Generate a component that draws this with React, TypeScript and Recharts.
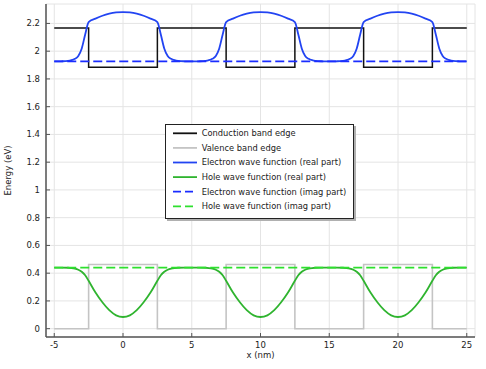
import React from 'react';
import { LineChart, Line, XAxis, YAxis, CartesianGrid } from 'recharts';

// x positions (nm) of the wave function samples
const waveX = [
  -5, -4.5, -4, -3.75, -3.5, -3.25, -3, -2.75,
  -2.5, -2, -1.5, -1, -0.5, 0, 0.5, 1, 1.5, 2, 2.5,
  2.75, 3, 3.25, 3.5, 3.75, 4, 4.5, 5, 5.5, 6, 6.25, 6.5, 6.75, 7, 7.25,
  7.5, 8, 8.5, 9, 9.5, 10, 10.5, 11, 11.5, 12, 12.5,
  12.75, 13, 13.25, 13.5, 13.75, 14, 14.5, 15, 15.5, 16, 16.25, 16.5, 16.75, 17, 17.25,
  17.5, 18, 18.5, 19, 19.5, 20, 20.5, 21, 21.5, 22, 22.5,
  22.75, 23, 23.25, 23.5, 23.75, 24, 24.5, 25,
];

const electronReal = [
  1.926, 1.927, 1.93, 1.935, 1.945, 1.965, 2.02, 2.12,
  2.21, 2.235, 2.2555, 2.27, 2.279, 2.282, 2.279, 2.27, 2.2555, 2.235, 2.21,
  2.12, 2.02, 1.965, 1.945, 1.935, 1.93, 1.927, 1.926, 1.927, 1.93, 1.935, 1.945, 1.965, 2.02, 2.12,
  2.21, 2.235, 2.2555, 2.27, 2.279, 2.282, 2.279, 2.27, 2.2555, 2.235, 2.21,
  2.12, 2.02, 1.965, 1.945, 1.935, 1.93, 1.927, 1.926, 1.927, 1.93, 1.935, 1.945, 1.965, 2.02, 2.12,
  2.21, 2.235, 2.2555, 2.27, 2.279, 2.282, 2.279, 2.27, 2.2555, 2.235, 2.21,
  2.12, 2.02, 1.965, 1.945, 1.935, 1.93, 1.927, 1.926,
];

const holeReal = [
  0.44, 0.44, 0.439, 0.437, 0.433, 0.425, 0.41, 0.385,
  0.345, 0.26, 0.19, 0.133, 0.096, 0.084, 0.096, 0.133, 0.19, 0.26, 0.345,
  0.385, 0.41, 0.425, 0.433, 0.437, 0.439, 0.44, 0.44, 0.44, 0.439, 0.437, 0.433, 0.425, 0.41, 0.385,
  0.345, 0.26, 0.19, 0.133, 0.096, 0.084, 0.096, 0.133, 0.19, 0.26, 0.345,
  0.385, 0.41, 0.425, 0.433, 0.437, 0.439, 0.44, 0.44, 0.44, 0.439, 0.437, 0.433, 0.425, 0.41, 0.385,
  0.345, 0.26, 0.19, 0.133, 0.096, 0.084, 0.096, 0.133, 0.19, 0.26, 0.345,
  0.385, 0.41, 0.425, 0.433, 0.437, 0.439, 0.44, 0.44,
];

const imagX = [-5, 25];
const electronImag = [1.926, 1.926];
const holeImag = [0.44, 0.44];

// band edge breakpoints
const bandX = [-5, -2.5, -2.5, 2.5, 2.5, 7.5, 7.5, 12.5, 12.5, 17.5, 17.5, 22.5, 22.5, 25];
const conductionBand = [2.167, 2.167, 1.885, 1.885, 2.167, 2.167, 1.885, 1.885, 2.167, 2.167, 1.885, 1.885, 2.167, 2.167];
const valenceBand = [0, 0, 0.462, 0.462, 0, 0, 0.462, 0.462, 0, 0, 0.462, 0.462, 0, 0];

const xTicks = [-5, 0, 5, 10, 15, 20, 25];
const yTicks = [0, 0.2, 0.4, 0.6, 0.8, 1, 1.2, 1.4, 1.6, 1.8, 2, 2.2];

const seriesNames = [
  'Conduction band edge',
  'Valence band edge',
  'Electron wave function (real part)',
  'Hole wave function (real part)',
  'Electron wave function (imag part)',
  'Hole wave function (imag part)',
];

const C_CB = '#111111';
const C_VB = '#c4c4c4';
const C_ER = '#2244f2';
const C_HR = '#2fb42f';
const C_EI = '#1a2cff';
const C_HI = '#2ee02e';

const FONT = 'DejaVu Sans';
const AX = '#555555';
const TXT = '#222222';

const bandData = bandX.map((x, i) => ({ x, cb: conductionBand[i], vb: valenceBand[i] }));
const waveData = waveX.map((x, i) => ({ x, er: electronReal[i], hr: holeReal[i] }));
const imagData = imagX.map((x, i) => ({ x, ei: electronImag[i], hi: holeImag[i] }));

const BottomTick = (p: any) => (
  <g>
    <line x1={p.x} x2={p.x} y1={p.y} y2={p.y - 4} stroke={AX} strokeWidth={1} />
    <text x={p.x} y={p.y + 11} textAnchor="middle" fontSize={8.5} fontFamily={FONT} fill={TXT}>
      {p.payload.value}
    </text>
  </g>
);
const LeftTick = (p: any) => (
  <g>
    <line x1={p.x} x2={p.x + 4} y1={p.y} y2={p.y} stroke={AX} strokeWidth={1} />
    <text x={p.x - 6} y={p.y} dy="0.35em" textAnchor="end" fontSize={8.5} fontFamily={FONT} fill={TXT}>
      {p.payload.value}
    </text>
  </g>
);
const TopTick = (p: any) => (
  <line x1={p.x} x2={p.x} y1={p.y} y2={p.y + 4} stroke={AX} strokeWidth={1} />
);
const RightTick = (p: any) => (
  <line x1={p.x} x2={p.x - 4} y1={p.y} y2={p.y} stroke={AX} strokeWidth={1} />
);

const legendStyles = [
  { c: C_CB, d: undefined },
  { c: C_VB, d: undefined },
  { c: C_ER, d: undefined },
  { c: C_HR, d: undefined },
  { c: C_EI, d: '8 4' },
  { c: C_HI, d: '8 4' },
];

export default function App() {
  return (
    <div style={{ position: 'absolute', left: 0, top: 0, width: 486, height: 369, background: '#fff' }}>
      <LineChart width={486} height={369} margin={{ top: 4, right: 11, bottom: 0, left: 0 }}>
        <CartesianGrid stroke="#e4e4e4" strokeWidth={1} />
        <XAxis
          type="number"
          dataKey="x"
          domain={[-5.6, 25.6]}
          ticks={xTicks}
          interval={0}
          allowDataOverflow
          height={32}
          tickSize={0}
          tickMargin={0}
          tickLine={false}
          axisLine={{ stroke: AX, strokeWidth: 1.5 }}
          tick={(p: any) => <BottomTick {...p} />}
          label={{
            content: () => (
              <text x={260.5} y={357.5} textAnchor="middle" fontSize={8.5} fontFamily={FONT} fill={TXT}>
                x (nm)
              </text>
            ),
          }}
        />
        <XAxis
          xAxisId="top"
          orientation="top"
          type="number"
          dataKey="x"
          domain={[-5.6, 25.6]}
          ticks={xTicks}
          interval={0}
          allowDataOverflow
          height={0}
          tickSize={0}
          tickMargin={0}
          tickLine={false}
          axisLine={{ stroke: AX, strokeWidth: 1.5 }}
          tick={(p: any) => <TopTick {...p} />}
        />
        <YAxis
          type="number"
          domain={[-0.06, 2.34]}
          ticks={yTicks}
          interval={0}
          allowDataOverflow
          width={46}
          tickSize={0}
          tickMargin={0}
          tickLine={false}
          axisLine={{ stroke: AX, strokeWidth: 1.5 }}
          tick={(p: any) => <LeftTick {...p} />}
          label={{
            content: () => (
              <text
                x={8.5}
                y={170.5}
                transform="rotate(-90 8.5 170.5)"
                textAnchor="middle"
                dy="0.35em"
                fontSize={8.5}
                fontFamily={FONT}
                fill={TXT}
              >
                Energy (eV)
              </text>
            ),
          }}
        />
        <YAxis
          yAxisId="right"
          orientation="right"
          type="number"
          domain={[-0.06, 2.34]}
          ticks={yTicks}
          interval={0}
          allowDataOverflow
          width={0}
          tickSize={0}
          tickMargin={0}
          tickLine={false}
          axisLine={{ stroke: AX, strokeWidth: 1.5 }}
          tick={(p: any) => <RightTick {...p} />}
        />
        <Line data={bandData} dataKey="cb" type="linear" stroke={C_CB} strokeWidth={1.5} dot={false} activeDot={false} isAnimationActive={false} />
        <Line data={bandData} dataKey="vb" type="linear" stroke={C_VB} strokeWidth={1.6} dot={false} activeDot={false} isAnimationActive={false} />
        <Line data={waveData} dataKey="er" type="monotone" stroke={C_ER} strokeWidth={1.8} dot={false} activeDot={false} isAnimationActive={false} />
        <Line data={waveData} dataKey="hr" type="monotone" stroke={C_HR} strokeWidth={1.8} dot={false} activeDot={false} isAnimationActive={false} />
        <Line data={imagData} dataKey="ei" type="linear" stroke={C_EI} strokeWidth={1.8} strokeDasharray="9 4" dot={false} activeDot={false} isAnimationActive={false} />
        <Line data={imagData} dataKey="hi" type="linear" stroke={C_HI} strokeWidth={1.8} strokeDasharray="9 4" dot={false} activeDot={false} isAnimationActive={false} />
      </LineChart>
      <div
        style={{
          position: 'absolute',
          left: 165,
          top: 124,
          width: 189,
          height: 95,
          boxSizing: 'border-box',
          border: '1px solid #222',
          background: '#fff',
          boxShadow: '2px 2px 0 #b0b0b0',
        }}
      >
        <svg width={187} height={93} style={{ display: 'block' }}>
          {seriesNames.map((name, i) => {
            const cy = 8.3 + i * 14.6;
            return (
              <g key={name}>
                <line x1={7} x2={31} y1={cy} y2={cy} stroke={legendStyles[i].c} strokeWidth={1.8} strokeDasharray={legendStyles[i].d} />
                <text x={35.7} y={cy} dy="0.35em" fontSize={8.3} fontFamily={FONT} fill={TXT}>
                  {name}
                </text>
              </g>
            );
          })}
        </svg>
      </div>
    </div>
  );
}
